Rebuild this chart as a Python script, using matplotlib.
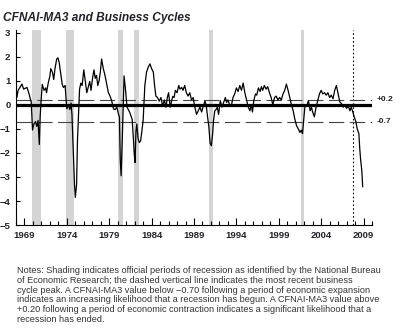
import matplotlib
matplotlib.use('Agg')
import matplotlib.pyplot as plt
from matplotlib.ticker import MultipleLocator

# CFNAI-MA3 (decimal year, index value)
years = [1968.0, 1968.1, 1968.25, 1968.7, 1968.9, 1969.3, 1969.5, 1969.8, 1969.95, 1970.1,
         1970.3, 1970.45, 1970.6, 1970.75, 1970.85, 1970.95, 1971.1, 1971.3, 1971.5, 1971.6,
         1971.8, 1972.0, 1972.1, 1972.3, 1972.45, 1972.6, 1972.8, 1972.95, 1973.1, 1973.25,
         1973.45, 1973.6, 1973.8, 1973.9, 1974.0, 1974.2, 1974.35, 1974.5, 1974.6, 1974.75,
         1974.9, 1975.0, 1975.15, 1975.25, 1975.4, 1975.5, 1975.65, 1975.8, 1976.0, 1976.2,
         1976.35, 1976.5, 1976.7, 1976.85, 1977.05, 1977.2, 1977.35, 1977.5, 1977.65, 1977.8,
         1977.95, 1978.1, 1978.3, 1978.5, 1978.7, 1978.9, 1979.1, 1979.3, 1979.5, 1979.7,
         1979.9, 1980.1, 1980.2, 1980.3, 1980.4, 1980.55, 1980.65, 1980.75, 1980.9, 1981.1,
         1981.25, 1981.4, 1981.7, 1981.8, 1981.85, 1981.95, 1982.05, 1982.15, 1982.25, 1982.4,
         1982.55, 1982.7, 1982.85, 1983.0, 1983.1, 1983.2, 1983.4, 1983.6, 1983.8, 1984.0,
         1984.2, 1984.35, 1984.5, 1984.7, 1984.9, 1985.1, 1985.3, 1985.5, 1985.7, 1985.85,
         1986.0, 1986.2, 1986.35, 1986.5, 1986.65, 1986.8, 1987.0, 1987.2, 1987.35, 1987.55,
         1987.7, 1987.9, 1988.1, 1988.3, 1988.5, 1988.7, 1988.9, 1989.1, 1989.3, 1989.5,
         1989.7, 1989.9, 1990.1, 1990.3, 1990.45, 1990.6, 1990.75, 1990.9, 1991.05, 1991.2,
         1991.3, 1991.45, 1991.6, 1991.75, 1991.9, 1992.1, 1992.3, 1992.5, 1992.7, 1992.85,
         1993.0, 1993.2, 1993.4, 1993.6, 1993.8, 1994.0, 1994.2, 1994.4, 1994.6, 1994.8,
         1995.0, 1995.2, 1995.4, 1995.6, 1995.75, 1995.9, 1996.05, 1996.25, 1996.4, 1996.6,
         1996.8, 1996.95, 1997.1, 1997.3, 1997.5, 1997.7, 1997.9, 1998.1, 1998.3, 1998.5,
         1998.7, 1998.9, 1999.1, 1999.3, 1999.5, 1999.7, 1999.9, 2000.1, 2000.3, 2000.5,
         2000.7, 2000.9, 2001.1, 2001.3, 2001.5, 2001.65, 2001.8, 2001.95, 2002.1, 2002.3,
         2002.5, 2002.7, 2002.85, 2003.0, 2003.2, 2003.4, 2003.6, 2003.8, 2004.0, 2004.2,
         2004.4, 2004.6, 2004.8, 2005.0, 2005.2, 2005.4, 2005.6, 2005.8, 2006.0, 2006.2,
         2006.4, 2006.6, 2006.8, 2007.0, 2007.2, 2007.4, 2007.55, 2007.7, 2007.9, 2008.1,
         2008.25, 2008.35, 2008.45, 2008.55, 2008.65, 2008.8, 2008.9]
cfnai = [0.8, 0.3, 0.6, 0.86, 0.65, 0.72, 0.5, 0.1, -1.05, -0.8,
         -0.7, -0.9, -0.65, -1.65, -0.5, 0.1, 0.85, 0.6, 0.7, 0.5,
         0.9, 1.2, 1.5, 1.35, 1.05, 1.5, 1.9, 1.95, 1.75, 1.35,
         0.85, 0.72, 0.8, 0.25, -0.17, 0.0, -0.2, 0.07, -0.4, -1.9,
         -3.3, -3.85, -3.3, -1.5, -0.25, 0.65, 0.9, 0.8, 1.45, 0.9,
         0.5, 0.7, 0.97, 0.6, 1.15, 1.45, 1.1, 1.22, 0.8, 1.0,
         1.36, 1.9, 1.5, 1.22, 0.86, 0.5, 0.36, 0.15, -0.17, -0.2,
         -0.1, -0.4, -0.5, -2.3, -2.95, -1.3, 0.0, 1.2, 0.7, -0.1,
         -0.2, -0.3, -0.6, -1.15, -1.4, -2.05, -2.4, -1.1, -0.8, -1.4,
         -1.57, -1.5, -1.1, -0.65, 0.1, 0.8, 1.36, 1.56, 1.7, 1.5,
         1.36, 0.8, 0.36, 0.3, 0.15, 0.3, -0.05, 0.2, -0.1, 0.3,
         0.5, -0.1, 0.15, 0.35, 0.3, 0.6, 0.5, 0.8, 0.65, 0.72,
         0.6, 0.8, 0.5, 0.36, 0.5, 0.2, 0.3, -0.1, -0.4, -0.25,
         -0.1, -0.3, -0.05, 0.15, -0.05, -0.5, -0.9, -1.6, -1.7, -1.2,
         -0.67, -0.25, -0.2, -0.1, -0.4, 0.17, -0.1, 0.1, 0.3, 0.1,
         0.2, 0.0, -0.05, 0.3, 0.45, 0.7, 0.55, 0.8, 0.6, 0.9,
         0.5, 0.2, -0.1, -0.25, 0.0, -0.3, 0.17, 0.45, 0.4, 0.7,
         0.55, 0.75, 0.6, 0.8, 0.65, 0.75, 0.5, 0.3, 0.0, 0.3,
         0.36, 0.2, 0.3, 0.2, 0.45, 0.6, 0.86, 0.6, 0.3, 0.0,
         -0.25, -0.6, -0.87, -1.0, -1.15, -1.05, -1.2, -0.6, 0.0, -0.05,
         0.17, -0.25, -0.1, -0.3, -0.5, -0.1, 0.17, 0.45, 0.6, 0.45,
         0.5, 0.4, 0.5, 0.3, 0.4, 0.25, 0.6, 0.8, 0.45, 0.12,
         0.05, -0.1, 0.0, -0.15, -0.05, -0.25, -0.1, -0.25, -0.5, -0.7,
         -1.0, -1.1, -1.2, -1.8, -2.25, -2.75, -3.4]

# recession shading as drawn (start, end)
rec_start = [1969.9, 1973.9, 1980.05, 1981.9, 1990.8, 2001.65]
rec_end = [1970.9, 1974.9, 1980.65, 1982.5, 1991.2, 2001.95]
peak = 2007.74
thresholds = [0.2, -0.7]
threshold_labels = ['+0.2', '-0.7']
year_labels = [1969, 1974, 1979, 1984, 1989, 1994, 1999, 2004, 2009]

notes = ("Notes: Shading indicates official periods of recession as identified by the National Bureau\n"
         "of Economic Research; the dashed vertical line indicates the most recent business\n"
         "cycle peak. A CFNAI-MA3 value below \u22120.70 following a period of economic expansion\n"
         "indicates an increasing likelihood that a recession has begun. A CFNAI-MA3 value above\n"
         "+0.20 following a period of economic contraction indicates a significant likelihood that a\n"
         "recession has ended.")

plt.rcParams['lines.scale_dashes'] = False
fnt = ['Liberation Sans', 'DejaVu Sans']
dark = '#222228'

fig = plt.figure(figsize=(4.0, 3.35), dpi=100)
ax = fig.add_axes([0.04, 0.328, 0.89, 0.582])

for s, e in zip(rec_start, rec_end):
    ax.axvspan(s, e, color='#d4d4d4', lw=0, zorder=0)

ax.axvline(peak, color='black', lw=0.8, ls=(0, (1.2, 1.6)), zorder=1)
for t in thresholds:
    ax.axhline(t, color='#444444', lw=0.8, ls=(0, (11, 4)), zorder=1)
ax.axhline(0, color='black', lw=2.3, zorder=2)

ax.plot(years, cfnai, color='black', lw=0.9, zorder=3)

for t, lab in zip(thresholds, threshold_labels):
    ax.text(2010.6, t, lab, ha='left', va='center', fontsize=6, fontweight='bold',
            family=fnt, color=dark, clip_on=False)

ax.set_xlim(1968.0, 2010.0)
ax.set_ylim(-5, 3.1)
ax.set_yticks(range(-5, 4))
ax.set_xticks(year_labels)
ax.xaxis.set_minor_locator(MultipleLocator(1))
ax.tick_params(axis='x', which='major', direction='in', length=5, width=0.8, pad=4)
ax.tick_params(axis='x', which='minor', direction='in', length=3, width=0.8)
ax.tick_params(axis='y', direction='in', length=3, width=0.8, pad=4)
for lab in ax.get_xticklabels() + ax.get_yticklabels():
    lab.set_family(fnt)
    lab.set_fontweight('bold')
    lab.set_fontsize(6.8)
    lab.set_color(dark)
for sp in ['top', 'right']:
    ax.spines[sp].set_visible(False)
for sp in ['left', 'bottom']:
    ax.spines[sp].set_linewidth(0.8)

fig.text(0.008, 0.945, 'CFNAI-MA3 and Business Cycles', ha='left', va='center', fontsize=8.6,
         fontweight='bold', style='italic', family=fnt, color=dark)
fig.text(0.042, 0.205, notes, ha='left', va='top', fontsize=6.6, family=fnt,
         color='#333333', linespacing=1.1)

fig.savefig('out.png', dpi=100)
